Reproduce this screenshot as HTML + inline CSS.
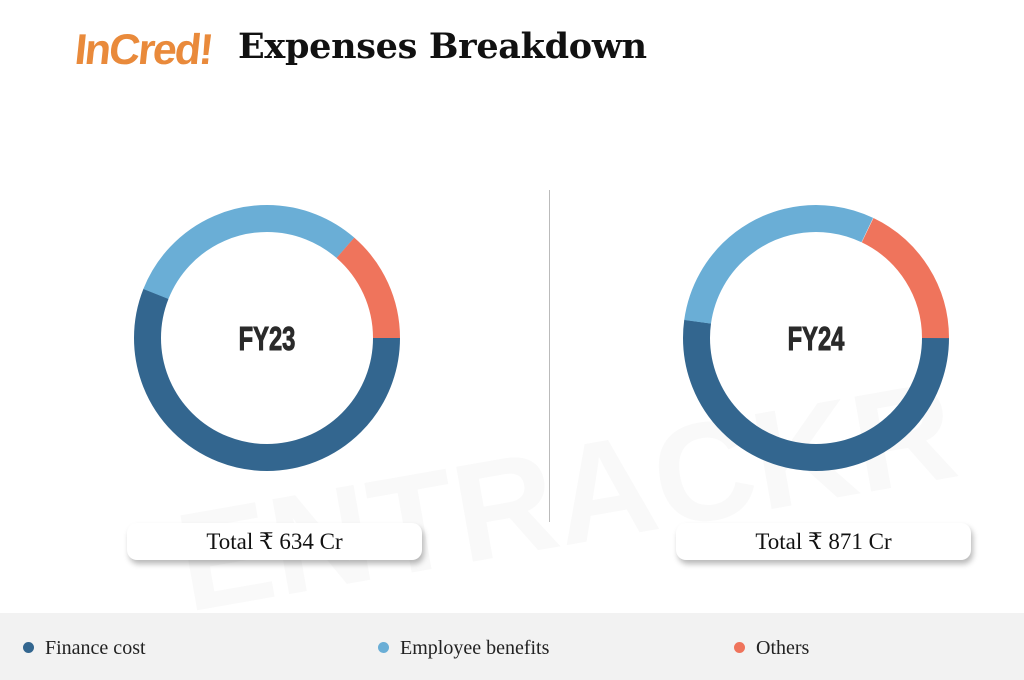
<!DOCTYPE html>
<html><head><meta charset="utf-8"><style>
html,body{margin:0;padding:0;background:#fff;}
body{width:1024px;height:680px;position:relative;overflow:hidden;font-family:"Liberation Serif","DejaVu Serif",serif;}
.logo{position:absolute;left:75px;top:26px;font-family:"Liberation Sans",sans-serif;font-weight:bold;font-size:43px;color:#e98a3b;letter-spacing:-2px;transform:skewX(-6deg);}
.title{position:absolute;left:238px;top:26px;font-family:"DejaVu Serif","Liberation Serif",serif;font-weight:bold;font-size:35px;color:#111;letter-spacing:-0.3px;}
.box{position:absolute;top:523px;height:37px;width:295px;background:#fff;border-radius:10px;box-shadow:2px 4px 6px rgba(0,0,0,0.28);text-align:center;line-height:37px;font-size:23px;color:#111;}
.legend{position:absolute;left:0;top:613px;width:1024px;height:67px;background:#f2f2f2;}
.li{position:absolute;top:24px;font-size:20px;color:#222;font-family:"Liberation Serif",serif;}
.dot{display:inline-block;width:11px;height:11px;border-radius:50%;margin-right:11px;vertical-align:1px;}
</style></head><body>
<div class="logo">InCred!</div>
<div class="title">Expenses Breakdown</div>
<svg width="1024" height="680" style="position:absolute;left:0;top:0">
<text x="560" y="545" text-anchor="middle" font-family="Liberation Sans,sans-serif" font-weight="bold" font-size="140" fill="#f9f9f9" transform="rotate(-10 560 460)">ENTRACKR</text>
<line x1="549.5" y1="190" x2="549.5" y2="522" stroke="#bbb" stroke-width="1"/>
<g fill="none" stroke-width="27">
<circle cx="267" cy="338" r="119.5" stroke="#33668f" stroke-dasharray="420.6 1000"/>
<circle cx="267" cy="338" r="119.5" stroke="#6aaed6" stroke-dasharray="228.2 1000" transform="rotate(201.6 267 338)"/>
<circle cx="267" cy="338" r="119.5" stroke="#ef745c" stroke-dasharray="102.2 1000" transform="rotate(311 267 338)"/>
<circle cx="816" cy="338" r="119.5" stroke="#33668f" stroke-dasharray="391.7 1000"/>
<circle cx="816" cy="338" r="119.5" stroke="#6aaed6" stroke-dasharray="224.4 1000" transform="rotate(187.8 816 338)"/>
<circle cx="816" cy="338" r="119.5" stroke="#ef745c" stroke-dasharray="134.3 1000" transform="rotate(295.6 816 338)"/>
</g>
<text x="267" y="350" text-anchor="middle" font-family="Liberation Sans,sans-serif" font-weight="bold" font-size="33" fill="#2a2a2a" stroke="#2a2a2a" stroke-width="1" transform="translate(267 0) scale(0.72 1) translate(-267 0)">FY23</text>
<text x="816" y="350" text-anchor="middle" font-family="Liberation Sans,sans-serif" font-weight="bold" font-size="33" fill="#2a2a2a" stroke="#2a2a2a" stroke-width="1" transform="translate(816 0) scale(0.72 1) translate(-816 0)">FY24</text>
</svg>
<div class="box" style="left:127px">Total ₹ 634 Cr</div>
<div class="box" style="left:676px">Total ₹ 871 Cr</div>
<div class="legend">
<div class="li" style="left:23px"><span class="dot" style="background:#33668f"></span>Finance cost</div>
<div class="li" style="left:378px"><span class="dot" style="background:#6aaed6"></span>Employee benefits</div>
<div class="li" style="left:734px"><span class="dot" style="background:#ef745c"></span>Others</div>
</div>
</body></html>
